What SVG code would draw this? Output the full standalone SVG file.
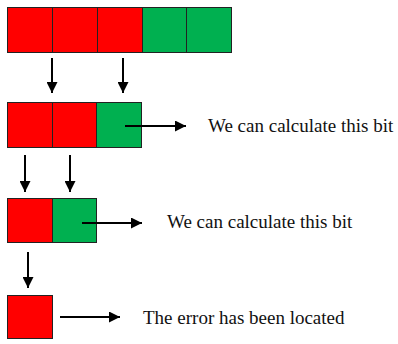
<svg xmlns="http://www.w3.org/2000/svg" width="398" height="344" viewBox="0 0 398 344">
<style>
.r{fill:#ff0000;stroke:#222;stroke-width:1}
.g{fill:#00b050;stroke:#222;stroke-width:1}
.c line{stroke:#000;stroke-width:2;marker-end:url(#ah)}
text{font-family:"Liberation Serif","Times New Roman",serif;font-size:19px;fill:#111}
</style>
<defs>
<marker id="ah" markerUnits="userSpaceOnUse" markerWidth="11" markerHeight="11" refX="11" refY="5.5" orient="auto">
<path d="M0,0 L11,5.5 L0,11 z" fill="#000"/>
</marker>
</defs>
<rect width="398" height="344" fill="#fff"/>
<g id="row1">
<rect class="r" x="7.5" y="7.5" width="45" height="45"/>
<rect class="r" x="52.5" y="7.5" width="45" height="45"/>
<rect class="r" x="97.5" y="7.5" width="45" height="45"/>
<rect class="g" x="142.5" y="7.5" width="44" height="45"/>
<rect class="g" x="186.5" y="7.5" width="45" height="45"/>
</g>
<g id="row2">
<rect class="r" x="7.5" y="102.5" width="45" height="45"/>
<rect class="r" x="52.5" y="102.5" width="44" height="45"/>
<rect class="g" x="96.5" y="102.5" width="45" height="45"/>
</g>
<g id="row3">
<rect class="r" x="7.5" y="198.5" width="45" height="44"/>
<rect class="g" x="52.5" y="198.5" width="44" height="44"/>
</g>
<g id="row4">
<rect class="r" x="7.5" y="295.5" width="45" height="43"/>
</g>
<g id="label1"><text x="208" y="132">We can calculate this bit</text></g>
<g id="label2"><text x="167" y="228">We can calculate this bit</text></g>
<g id="label3"><text x="143" y="324">The error has been located</text></g>
<g class="c" id="connectors">
<line x1="52" y1="58" x2="52" y2="93"/>
<line x1="123" y1="58" x2="123" y2="93"/>
<line x1="25" y1="155" x2="25" y2="192"/>
<line x1="70" y1="155" x2="70" y2="192"/>
<line x1="28" y1="252" x2="28" y2="288"/>
<line x1="125" y1="126" x2="186" y2="126"/>
<line x1="82" y1="223" x2="142" y2="223"/>
<line x1="60" y1="317" x2="120" y2="317"/>
</g>
</svg>
